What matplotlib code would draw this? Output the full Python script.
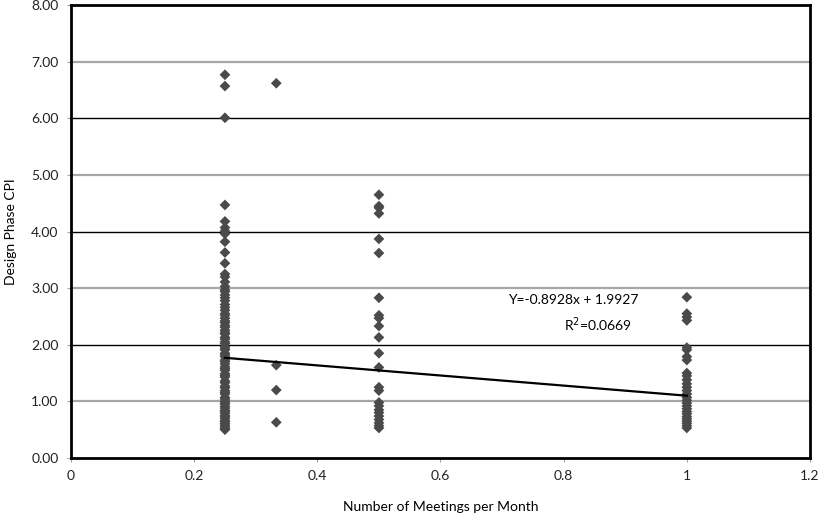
import matplotlib
matplotlib.use("Agg")
import matplotlib.pyplot as plt
import numpy as np

plt.rcParams['font.family'] = ['Lato', 'DejaVu Sans']

# meetings per month -> design phase CPI
cpi_025 = [6.77, 6.57, 6.01, 4.47, 4.18, 4.07, 4.01, 3.96, 3.82, 3.63, 3.44,
           3.25, 3.20, 3.11, 3.03, 2.97, 2.94, 2.88, 2.83, 2.78, 2.71, 2.66,
           2.61, 2.55, 2.52, 2.47, 2.42, 2.39, 2.34, 2.31, 2.26, 2.22, 2.19,
           2.13, 2.10, 2.05, 2.02, 1.97, 1.94, 1.91, 1.85, 1.82, 1.79, 1.73,
           1.70, 1.66, 1.61, 1.58, 1.55, 1.49, 1.46, 1.43, 1.36, 1.33, 1.27,
           1.24, 1.19, 1.16, 1.13, 1.07, 1.04, 1.00, 0.97, 0.95, 0.91, 0.88,
           0.84, 0.82, 0.79, 0.75, 0.73, 0.70, 0.66, 0.64, 0.61, 0.58, 0.55,
           0.52, 0.50]
cpi_033 = [6.62, 1.64, 1.20, 0.63]
cpi_050 = [4.65, 4.45, 4.42, 4.32, 3.87, 3.62, 2.83, 2.52, 2.47, 2.33,
           2.13, 1.85, 1.60, 1.25, 1.19, 0.98, 0.92, 0.85, 0.80, 0.74,
           0.68, 0.62, 0.57, 0.53]
cpi_100 = [2.84, 2.55, 2.49, 2.43, 1.95, 1.91, 1.79, 1.73, 1.50, 1.45,
           1.38, 1.31, 1.25, 1.19, 1.13, 1.07, 1.02, 0.97, 0.92, 0.87,
           0.82, 0.78, 0.73, 0.69, 0.65, 0.61, 0.57, 0.53]

groups = [(0.25, cpi_025), (1/3, cpi_033), (0.5, cpi_050), (1.0, cpi_100)]
slope, intercept = -0.8928, 1.9927
fit_x = [0.25, 1.0]

fig = plt.figure(figsize=(8.19, 5.14), dpi=100)
ax = fig.add_axes([0.0867, 0.109, 0.9023, 0.881])

# alternating grid lines like the original
for yv in range(1, 8):
    if yv % 2:
        ax.axhline(yv, color='#a6a6a6', lw=1.6, zorder=0)
    else:
        ax.axhline(yv, color='black', lw=1.0, zorder=0)

for xv, ys in groups:
    ax.scatter([xv] * len(ys), ys, marker='D', s=30, color='#4a4a4a',
               edgecolors='none', zorder=3)

fx = np.array(fit_x)
ax.plot(fx, slope * fx + intercept, color='black', lw=1.6, zorder=4)

ax.text(0.71, 2.79, "Y=-0.8928x + 1.9927", fontsize=10, va='center')
ax.text(0.80, 2.35, "R$^2$=0.0669", fontsize=10, va='center')

ax.set_xlim(0, 1.2)
ax.set_ylim(0, 8)
ax.set_xticks([0, 0.2, 0.4, 0.6, 0.8, 1.0, 1.2])
ax.set_xticklabels(["0", "0.2", "0.4", "0.6", "0.8", "1", "1.2"])
ax.set_yticks(range(9))
ax.set_yticklabels([f"{v:.2f}" for v in range(9)])
ax.tick_params(direction='out', length=3, color='#a0a0a0', labelsize=10,
               labelcolor='#222222', pad=6)

for s in ax.spines.values():
    s.set_linewidth(2)
    s.set_color('black')

ax.set_xlabel("Number of Meetings per Month", fontsize=10, labelpad=13)
ax.set_ylabel("Design Phase CPI", fontsize=10, labelpad=10)

fig.savefig("out.png", dpi=100)
